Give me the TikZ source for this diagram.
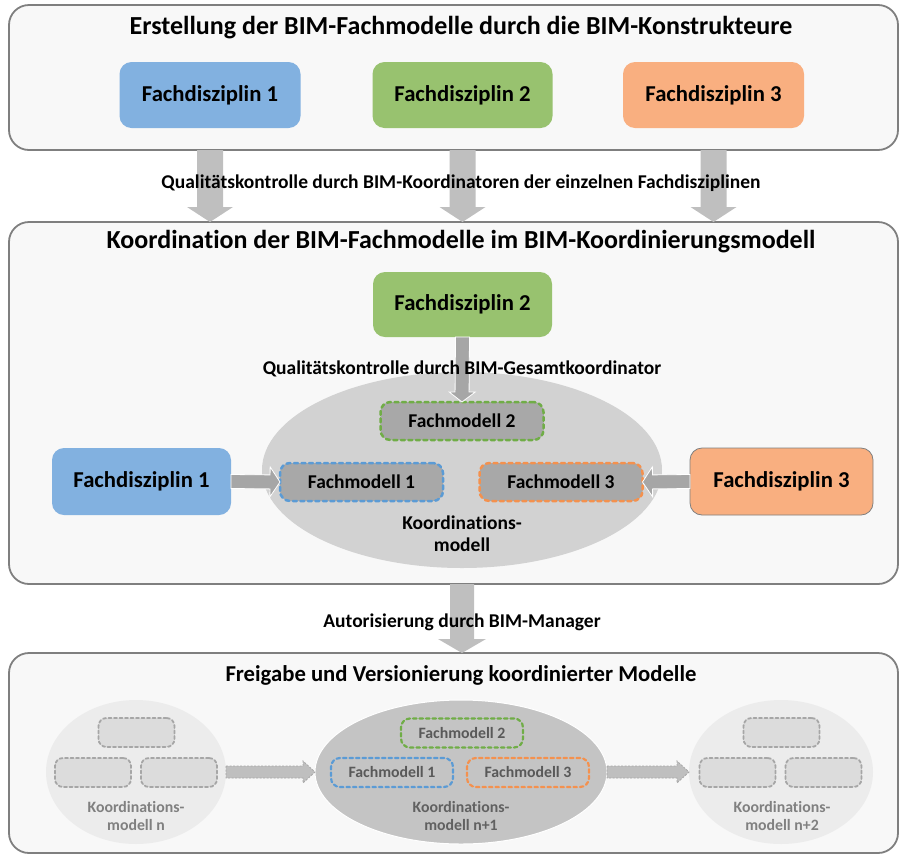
\documentclass[tikz,border=0pt]{standalone}
\usepackage{fontspec}
\setmainfont{Carlito}[Ligatures=NoCommon]
\usetikzlibrary{calc,shapes.geometric}
\definecolor{panelfill}{HTML}{F8F8F8}
\definecolor{panelborder}{HTML}{7F7F7F}
\definecolor{fdblue}{HTML}{82B1E0}
\definecolor{fdgreen}{HTML}{98C26F}
\definecolor{fdorange}{HTML}{F9AF80}
\definecolor{dblue}{HTML}{5B9BD5}
\definecolor{dgreen}{HTML}{70AD47}
\definecolor{dorange}{HTML}{F4914E}
\definecolor{arrowgray}{HTML}{BFBFBF}
\definecolor{arrowdark}{HTML}{A6A6A6}
\definecolor{ellfill}{HTML}{D2D2D2}
\definecolor{fmfill}{HTML}{A8A8A8}
\definecolor{elllight}{HTML}{ECECEC}
\definecolor{phfill}{HTML}{DCDCDC}
\definecolor{ellmid}{HTML}{C4C4C4}
\newcommand\blockarrow[6]{%
  \coordinate (bahead) at ($(#3)!#6!(#2)$);
  \path[#1] ($(#2)!#4!90:(#3)$) -- ($(bahead)!#4!90:(#3)$) -- ($(bahead)!#5!90:(#3)$) -- (#3)
    -- ($(bahead)!#5!-90:(#3)$) -- ($(bahead)!#4!-90:(#3)$) -- ($(#2)!#4!-90:(#3)$) -- cycle;
}
\begin{document}
\begin{tikzpicture}[x=1pt,y=-1pt,
  panel/.style={draw=panelborder, line width=1.8pt, fill=panelfill, rounded corners=20pt, inner sep=0pt, outer sep=0pt},
  fd/.style={rounded corners=12pt, inner sep=0pt, outer sep=0pt, font=\bfseries\fontsize{22.7}{26}\selectfont},
  titletext/.style={font=\bfseries\fontsize{26}{30}\selectfont},
  lbl/.style={font=\bfseries\fontsize{19.5}{22}\selectfont},
  fm/.style={rounded corners=10pt, fill=fmfill, line width=2.5pt, dash pattern=on 4pt off 3.5pt, line cap=round,
    minimum width=163pt, minimum height=38pt, inner sep=0pt, outer sep=0pt, font=\bfseries\fontsize{19.5}{22}\selectfont},
  fmsmall/.style={rounded corners=9pt, line width=2.2pt, dash pattern=on 3.5pt off 3pt, line cap=round,
    minimum width=122pt, minimum height=29pt, inner sep=0pt, outer sep=0pt, text=black!65, font=\bfseries\fontsize{15.8}{18}\selectfont},
  ph/.style={rounded corners=8pt, fill=phfill, draw=arrowdark, line width=1.8pt, dash pattern=on 3pt off 2.5pt, line cap=round,
    minimum width=76pt, minimum height=29pt, inner sep=0pt, outer sep=0pt},
  ell/.style={ellipse, inner sep=0pt, outer sep=0pt},
  bigarrow/.style={fill=arrowgray},
  smallarrow/.style={fill=arrowdark, draw=white, line width=0.8pt},
  dasharrow/.style={fill=arrowgray, draw=arrowdark, line width=0.8pt, dash pattern=on 2pt off 1.5pt},
  ktext/.style={align=center, font=\bfseries\fontsize{15.8}{18}\selectfont}
]
\useasboundingbox (0,0) rectangle (902,855);

% ---------- panel 1
\node[panel, minimum width=889pt, minimum height=145pt] (p1) at (453.5,77.5) {};
\node[titletext] (t1) at (461,28) {Erstellung der BIM-Fachmodelle durch die BIM-Konstrukteure};
\node[fd, fill=fdblue, minimum width=181pt, minimum height=66pt] (fdA1) at (210,95) {Fachdisziplin 1};
\node[fd, fill=fdgreen, minimum width=180pt, minimum height=66pt] (fdA2) at (462.5,95) {Fachdisziplin 2};
\node[fd, fill=fdorange, minimum width=181pt, minimum height=66pt] (fdA3) at (713.5,95) {Fachdisziplin 3};

% ---------- panel 2
\node[panel, minimum width=889pt, minimum height=362pt] (p2) at (453.5,403) {};

\coordinate (a1s) at (fdA1 |- p1.south);
\coordinate (a1e) at (fdA1 |- p2.north);
\coordinate (a2s) at (fdA2 |- p1.south);
\coordinate (a2e) at (fdA2 |- p2.north);
\coordinate (a3s) at (fdA3 |- p1.south);
\coordinate (a3e) at (fdA3 |- p2.north);
\blockarrow{bigarrow}{a1s}{a1e}{13pt}{23pt}{15pt}
\blockarrow{bigarrow}{a2s}{a2e}{13pt}{23pt}{15pt}
\blockarrow{bigarrow}{a3s}{a3e}{13pt}{23pt}{15pt}
\node[lbl] (l1) at (461,183) {Qualitätskontrolle durch BIM-Koordinatoren der einzelnen Fachdisziplinen};

\node[titletext] (t2) at (461,242) {Koordination der BIM-Fachmodelle im BIM-Koordinierungsmodell};
\node[fd, fill=fdgreen, minimum width=179pt, minimum height=65pt] (fdB2) at (462.5,304.5) {Fachdisziplin 2};
\node[ell, fill=ellfill, minimum width=400pt, minimum height=196pt] (E) at (462,470) {};
\node[fm, draw=dgreen] (fm2) at (462,421) {Fachmodell 2};
\node[fm, draw=dblue] (fm1) at (361.5,482) {Fachmodell 1};
\node[fm, draw=dorange] (fm3) at (561,482) {Fachmodell 3};
\node[ktext, font=\bfseries\fontsize{19.5}{22}\selectfont] (kB) at (462,534) {Koordinations-\\modell};
\node[fd, fill=fdblue, minimum width=179pt, minimum height=67pt] (fdB1) at (141.5,481.5) {Fachdisziplin 1};
\node[fd, fill=fdorange, draw=panelborder, line width=0.8pt, minimum width=183pt, minimum height=67pt] (fdB3) at (781.5,481.5) {Fachdisziplin 3};

\coordinate (b2s) at (fdB2.south);
\coordinate (b2e) at (fm2.north);
\blockarrow{smallarrow}{b2s}{b2e}{7pt}{13pt}{10pt}
\coordinate (b1s) at (fdB1.east);
\coordinate (b1e) at (fm1.west);
\blockarrow{smallarrow}{b1s}{b1e}{7pt}{15pt}{10pt}
\coordinate (b3s) at (fdB3.west);
\coordinate (b3e) at (fm3.east);
\blockarrow{smallarrow}{b3s}{b3e}{7pt}{15pt}{10pt}
\node[lbl] (l2) at (462,369) {Qualitätskontrolle durch BIM-Gesamtkoordinator};

% ---------- panel 3
\node[panel, minimum width=889pt, minimum height=200pt] (p3) at (453.5,753) {};
\coordinate (c1s) at (E |- p2.south);
\coordinate (c1e) at (E |- p3.north);
\blockarrow{bigarrow}{c1s}{c1e}{12pt}{24pt}{14pt}
\node[lbl] (l3) at (462,622) {Autorisierung durch BIM-Manager};
\node[titletext, font=\bfseries\fontsize{22.7}{26}\selectfont] (t3) at (461,675) {Freigabe und Versionierung koordinierter Modelle};

\node[ell, fill=elllight, minimum width=180pt, minimum height=144pt] (En) at (136,772) {};
\node[ell, fill=ellmid, draw=white, line width=1pt, minimum width=292pt, minimum height=144pt] (En1) at (461,772) {};
\node[ell, fill=elllight, minimum width=184pt, minimum height=144pt] (En2) at (781,772) {};

\node[ph] (phA) at (136.5,732.5) {};
\node[ph] (phB) at (93,772.5) {};
\node[ph] (phC) at (179,772.5) {};
\node[ph] (phD) at (781.5,732.5) {};
\node[ph] (phE) at (737.5,772.5) {};
\node[ph] (phF) at (823.5,772.5) {};

\node[fmsmall, draw=dgreen] (fm2b) at (462,733) {Fachmodell 2};
\node[fmsmall, draw=dblue] (fm1b) at (392,772.5) {Fachmodell 1};
\node[fmsmall, draw=dorange] (fm3b) at (528,772.5) {Fachmodell 3};

\node[ktext, text=black!50] (kn) at (136,816) {Koordinations-\\modell n};
\node[ktext, text=black!62] (kn1) at (461,816) {Koordinations-\\modell n+1};
\node[ktext, text=black!50] (kn2) at (782,816) {Koordinations-\\modell n+2};

\coordinate (d1s) at (En.east);
\coordinate (d1e) at (En1.west);
\blockarrow{dasharrow}{d1s}{d1e}{6pt}{11pt}{12pt}
\coordinate (d2s) at (En1.east);
\coordinate (d2e) at (En2.west);
\blockarrow{dasharrow}{d2s}{d2e}{6pt}{11pt}{12pt}
\end{tikzpicture}
\end{document}
